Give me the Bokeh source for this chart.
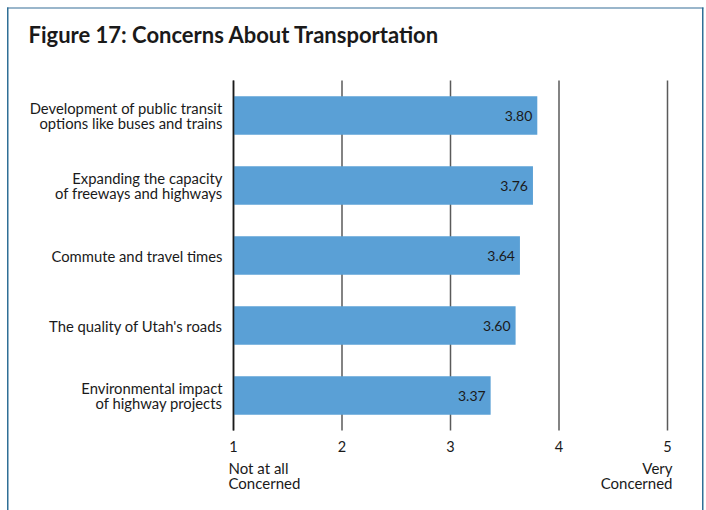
from bokeh.plotting import figure
from bokeh.models import ColumnDataSource, Label, FactorRange, Range1d, BoxAnnotation
from bokeh.embed import file_html
from bokeh.resources import INLINE

categories = [
    "Development of public transit\noptions like buses and trains",
    "Expanding the capacity\nof freeways and highways",
    "Commute and travel times",
    "The quality of Utah's roads",
    "Environmental impact\nof highway projects",
]
values = [3.80, 3.76, 3.64, 3.60, 3.37]
value_labels = ["3.80", "3.76", "3.64", "3.60", "3.37"]
tick_values = [1, 2, 3, 4, 5]
tick_labels = ["1", "2", "3", "4", "5"]
title_text = "Figure 17: Concerns About Transportation"
low_label = "Not at all\nConcerned"
high_label = "Very\nConcerned"

FONT = "Lato"
INK = "#1a1a1a"
W, H = 706, 510

# layout geometry (pixels)
X_AT_1 = 233.0        # pixel of value 1
PX_PER_UNIT = 108.5   # pixels per scale unit
PLOT_TOP, PLOT_BOTTOM = 80.0, 430.0
n = len(categories)
band = (PLOT_BOTTOM - PLOT_TOP) / n
pad_each = PLOT_TOP / band   # padding per side in factor units (symmetric)

p = figure(
    width=W, height=H,
    x_range=Range1d(1 - X_AT_1 / PX_PER_UNIT, 1 + (W - X_AT_1) / PX_PER_UNIT),
    y_range=FactorRange(*reversed(categories), range_padding=pad_each, range_padding_units="absolute"),
    output_backend="svg", toolbar_location=None,
    min_border=0,
)
p.axis.visible = False
p.grid.visible = False
p.outline_line_color = None
p.background_fill_color = "white"
p.border_fill_color = "white"

src = ColumnDataSource(dict(cat=categories, val=values, lab=value_labels, base=[1] * n))
tsrc = ColumnDataSource(dict(x=tick_values, lab=tick_labels,
                             y0=[0] * len(tick_values), y1=[n] * len(tick_values)))

# vertical grid lines at the scale points
p.segment(x0="x", x1="x", y0="y0", y1="y1", source=tsrc, line_color="#5a5a5a", line_width=1.5)

# bars
p.hbar(y="cat", left="base", right="val", height=0.55, source=src,
       fill_color="#5aa0d6", line_color=None)

# left axis line at 1
p.segment(x0=[1], x1=[1], y0=[0], y1=[n], line_color=INK, line_width=1.6)

# value labels
p.text(x="val", y="cat", text="lab", source=src, x_offset=-5,
       text_align="right", text_baseline="middle", text_font_size="14px",
       text_color=INK, text_font={"value": FONT})

# category labels
p.text(x="base", y="cat", text="cat", source=src, x_offset=-11,
       text_align="right", text_baseline="middle", text_font_size="14.8px",
       text_line_height=0.79, text_color=INK, text_font={"value": FONT})

# scale tick labels
p.text(x="x", y="y0", text="lab", source=tsrc, y_offset=10,
       text_align="center", text_baseline="top", text_font_size="14.5px",
       text_color=INK, text_font={"value": FONT})

# scale end labels
p.text(x=[1], y=[0], text=[low_label], x_offset=-5, y_offset=28,
       text_align="left", text_baseline="top", text_font_size="15px",
       text_line_height=0.86, text_color=INK, text_font={"value": FONT})
p.text(x=[5], y=[0], text=[high_label], x_offset=5, y_offset=28,
       text_align="right", text_baseline="top", text_font_size="15px",
       text_line_height=0.86, text_color=INK, text_font={"value": FONT})

# title (screen units: origin bottom-left of canvas)
p.add_layout(Label(x=28, y=H - 34, x_units="screen", y_units="screen", text=title_text,
                   text_font=FONT, text_font_style="bold", text_font_size="22px",
                   text_color=INK, text_baseline="alphabetic"))

# panel border (top, left, right)
def edge(l, r, t, b, color):
    p.add_layout(BoxAnnotation(left=l, right=r, top=H - t, bottom=H - b,
                               left_units="screen", right_units="screen",
                               top_units="screen", bottom_units="screen",
                               fill_color=color, fill_alpha=1, line_color=None, level="overlay"))

edge(6.5, 703, 6.5, 8.5, "#9ab6cb")
edge(6.5, 8, 7, H, "#2f6f96")
edge(701.5, 703, 7, H, "#2f6f96")

open("out.html", "w").write(file_html(p, INLINE))
